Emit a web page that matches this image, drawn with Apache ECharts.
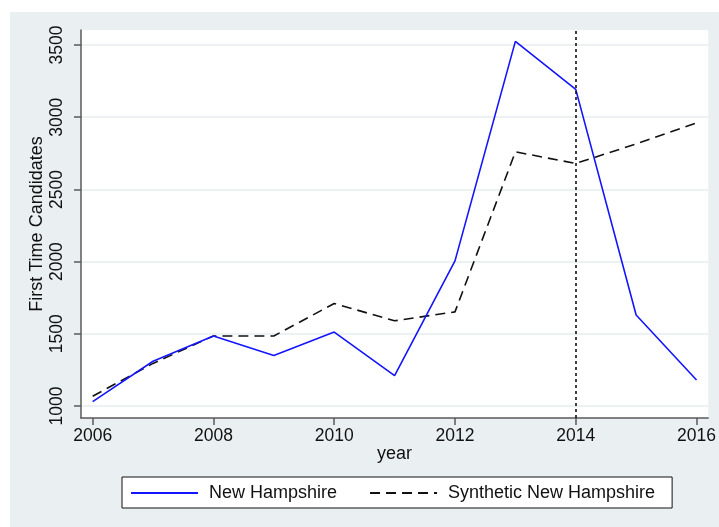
<!DOCTYPE html>
<html>
<head>
<meta charset="utf-8">
<script src="https://cdn.jsdelivr.net/npm/echarts@6/dist/echarts.min.js"></script>
<style>
  html, body { margin: 0; padding: 0; background: #fff; }
  #chart { width: 719px; height: 527px; }
</style>
</head>
<body>
<div id="chart"></div>
<script>
// First-time candidates per year: New Hampshire vs. its synthetic control
const years = [2006, 2007, 2008, 2009, 2010, 2011, 2012, 2013, 2014, 2015, 2016];
const newHampshire = [1030, 1310, 1485, 1350, 1512, 1210, 2005, 3525, 3193, 1630, 1180];
const syntheticNH = [1068, 1295, 1485, 1485, 1710, 1590, 1652, 2760, 2680, 2815, 2960];
const xTicks = [2006, 2008, 2010, 2012, 2014, 2016];
const yTicks = [1000, 1500, 2000, 2500, 3000, 3500];
const treatmentYear = 2014;

const FONT = '"Liberation Sans", Arial, Helvetica, sans-serif';
const axisGray = '#5a5a5a';

const chart = echarts.init(document.getElementById('chart'), null, { renderer: 'canvas' });

const option = {
  backgroundColor: '#ffffff',
  animation: false,
  graphic: [{
    type: 'rect',
    z: -10,
    shape: { x: 10, y: 12, width: 709, height: 515 },
    style: { fill: '#EAF0F2' },
    silent: true
  }],
  grid: {
    left: 81, top: 30, right: 8, bottom: 109,
    show: true, backgroundColor: '#ffffff', borderWidth: 0
  },
  xAxis: {
    type: 'value',
    min: 2005.807, max: 2016.193,
    name: 'year',
    nameLocation: 'middle',
    nameGap: 27,
    nameMoveOverlap: false,
    nameTextStyle: { fontFamily: FONT, fontSize: 18, color: '#111' },
    axisLine: { show: true, onZero: false, lineStyle: { color: axisGray, width: 1.5 } },
    axisTick: { show: true, length: 7, customValues: xTicks, lineStyle: { color: axisGray, width: 1.5 } },
    axisLabel: {
      customValues: xTicks, margin: 9,
      fontFamily: FONT, fontSize: 17.5, color: '#111',
      formatter: v => String(v)
    },
    splitLine: { show: false }
  },
  yAxis: {
    type: 'value',
    min: 917, max: 3604,
    name: 'First Time Candidates',
    nameLocation: 'middle',
    nameRotate: 90,
    nameGap: 35,
    nameMoveOverlap: false,
    nameTextStyle: { fontFamily: FONT, fontSize: 18, color: '#111' },
    axisLine: { show: true, onZero: false, lineStyle: { color: axisGray, width: 1.5 } },
    axisTick: { show: true, length: 7, customValues: yTicks, lineStyle: { color: axisGray, width: 1.5 } },
    axisLabel: {
      customValues: yTicks, rotate: 90, margin: 15,
      fontFamily: FONT, fontSize: 17.5, color: '#111',
      formatter: v => String(v)
    },
    splitLine: { show: true, lineStyle: { color: '#E6EEF0', width: 1.5 } }
  },
  legend: {
    left: 122, top: 477,
    padding: [7, 17, 6, 8],
    itemWidth: 67, itemHeight: 18,
    itemGap: 32,
    backgroundColor: '#ffffff',
    borderColor: '#111', borderWidth: 1,
    itemStyle: { opacity: 0 },
    textStyle: { fontFamily: FONT, fontSize: 18, color: '#111', padding: [0, 0, 0, 6] },
    data: ['New Hampshire', 'Synthetic New Hampshire']
  },
  series: [
    {
      name: 'New Hampshire',
      type: 'line',
      symbol: 'none',
      data: years.map((y, i) => [y, newHampshire[i]]),
      lineStyle: { color: '#1414ff', width: 1.6 },
      itemStyle: { color: '#1414ff' },
      z: 3
    },
    {
      name: 'Synthetic New Hampshire',
      type: 'line',
      symbol: 'none',
      data: years.map((y, i) => [y, syntheticNH[i]]),
      lineStyle: { color: '#111', width: 1.6, type: [10, 6] },
      itemStyle: { color: '#111' },
      z: 2,
      markLine: {
        silent: true,
        symbol: 'none',
        label: { show: false },
        lineStyle: { color: '#111', width: 1.6, type: [3, 3] },
        data: [{ xAxis: treatmentYear }]
      }
    }
  ]
};

chart.setOption(option);
</script>
</body>
</html>
